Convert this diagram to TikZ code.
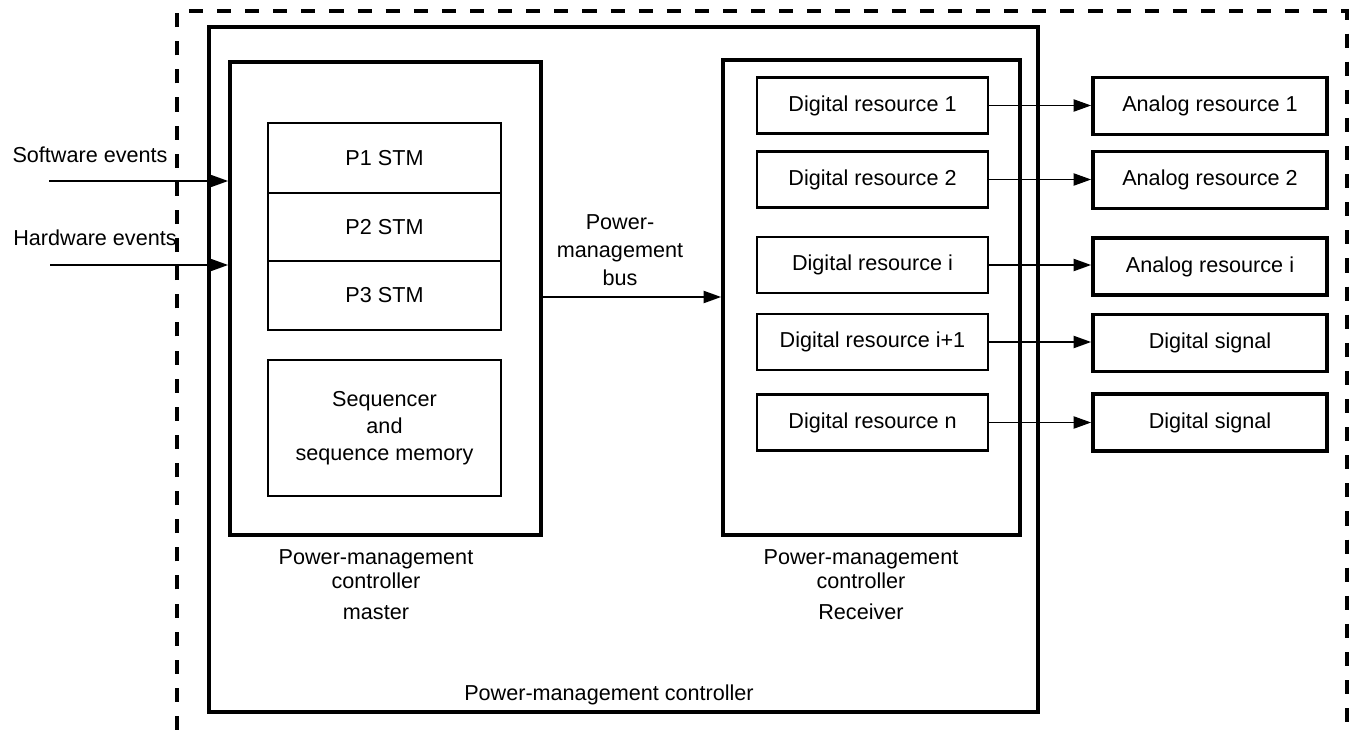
\documentclass[tikz,border=0pt]{standalone}
\usepackage{fontspec}
\setmainfont{Liberation Sans}
\usetikzlibrary{arrows.meta}
\begin{document}
\begin{tikzpicture}[x=0.02cm, y=-0.02cm, font=\fontsize{12.3}{15.5}\selectfont,
  box/.style={draw, line width=1.5pt, inner sep=0pt, align=center},
  bigbox/.style={draw, line width=2.2pt, inner sep=0pt},
  drbox/.style={box, minimum width=4.62cm, minimum height=1.12cm},
  arbox/.style={box, line width=2.2pt, minimum width=4.68cm, minimum height=1.14cm},
  stmbox/.style={box, minimum width=4.66cm},
  arr/.style={line width=0.8pt, -{Triangle[length=10pt, width=7pt]}}]
  \useasboundingbox (0,0) rectangle (1349,730);
  % border of the unit
  \draw[line width=2pt, dash pattern=on 8pt off 8pt] (177,730) -- (177,11) -- (1347,11) -- (1347,730);
  \node[bigbox, minimum width=16.58cm, minimum height=13.7cm] (pmc) at (623.5,369.5) {};
  \node (pmclbl) at (609,695) {Power-management controller};
  % master side
  \node[bigbox, minimum width=6.22cm, minimum height=9.46cm] (master) at (385.5,298.5) {};
  \node[stmbox, minimum height=1.4cm] (p1) at (384.5,158) {P1 STM};
  \node[stmbox, minimum height=1.36cm] (p2) at (384.5,227) {P2 STM};
  \node[stmbox, minimum height=1.38cm] (p3) at (384.5,295.5) {P3 STM};
  \node[stmbox, minimum height=2.72cm, font=\fontsize{12.3}{15.3}\selectfont] (seq) at (384.5,428)
    {Sequencer\\and\\sequence memory};
  \node[align=center, font=\fontsize{12.3}{13.6}\selectfont] (masterlbl) at (376,585)
    {Power-management\\controller\\[4pt]master};
  % receiver side
  \node[bigbox, minimum width=5.94cm, minimum height=9.5cm] (recv) at (871.5,297.5) {};
  \node[align=center, font=\fontsize{12.3}{13.6}\selectfont] (recvlbl) at (861,585)
    {Power-management\\controller\\[4pt]Receiver};
  \node[drbox] (dr1) at (872.5,105.5) {Digital resource 1};
  \node[drbox] (dr2) at (872.5,179.5) {Digital resource 2};
  \node[drbox] (dri) at (872.5,265) {Digital resource i};
  \node[drbox] (drj) at (872.5,342) {Digital resource i+1};
  \node[drbox] (drn) at (872.5,422.5) {Digital resource n};
  \node[arbox] (ar1) at (1210,106) {Analog resource 1};
  \node[arbox] (ar2) at (1210,180) {Analog resource 2};
  \node[arbox] (ari) at (1210,266.5) {Analog resource i};
  \node[arbox] (ds1) at (1210,343) {Digital signal};
  \node[arbox] (ds2) at (1210,422.5) {Digital signal};
  \draw[arr] (dr1.east) -- (ar1.west |- dr1.east);
  \draw[arr] (dr2.east) -- (ar2.west |- dr2.east);
  \draw[arr] (dri.east) -- (ari.west |- dri.east);
  \draw[arr] (drj.east) -- (ds1.west |- drj.east);
  \draw[arr] (drn.east) -- (ds2.west |- drn.east);
  % bus
  \coordinate (busy) at (0,297);
  \draw[arr] (master.east |- busy) -- (recv.west |- busy);
  \node[align=center, font=\fontsize{12.3}{15.9}\selectfont] (buslbl) at (620,250) {Power-\\management\\bus};
  % events
  \coordinate (sw) at (49,181);
  \coordinate (hw) at (50,265);
  \node (swlbl) at (90,155) {Software events};
  \node (hwlbl) at (95,238) {Hardware events};
  \draw[arr] (sw) -- (master.west |- sw);
  \draw[arr] (hw) -- (master.west |- hw);
\end{tikzpicture}
\end{document}
